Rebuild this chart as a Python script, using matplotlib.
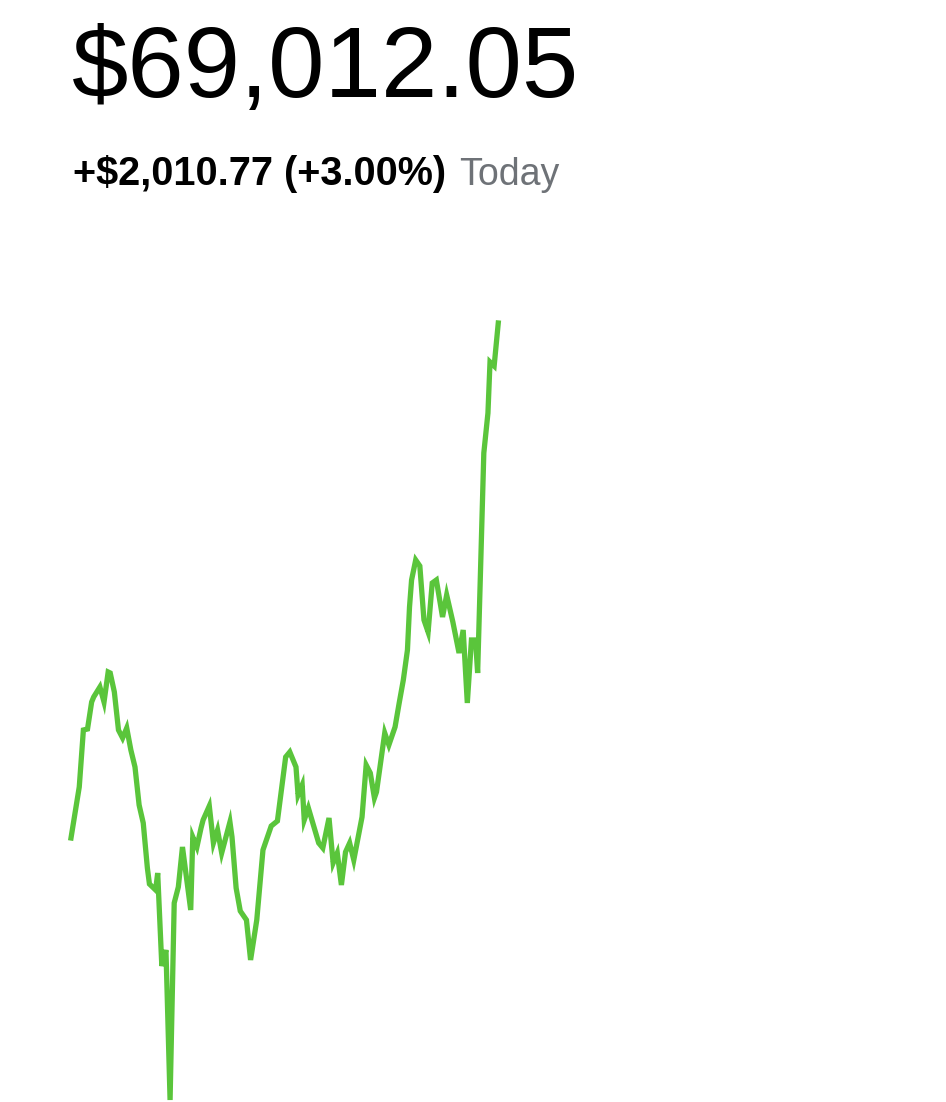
import matplotlib
matplotlib.use("Agg")
import matplotlib.pyplot as plt

# intraday portfolio value, minutes after the open
minutes = [0, 4, 6, 8, 10, 11, 14, 16, 18, 19, 21, 23, 25, 27, 29, 31, 33, 35,
           37, 38, 41, 42, 44, 46, 48, 50, 52, 54, 58, 59, 61, 63, 64, 67, 69,
           71, 73, 77, 78, 80, 82, 85, 87, 90, 93, 97, 100, 104, 106, 109, 110,
           112, 113, 115, 120, 122, 125, 127, 129, 131, 133, 135, 137, 141, 143,
           145, 147, 148, 152, 154, 157, 159, 161, 163, 164, 165, 167, 169, 171,
           173, 175, 177, 180, 182, 185, 188, 190, 192, 194, 196, 197, 198, 200,
           202, 203, 205, 207]
values = [67001.5, 67200.6, 67423.1, 67427.0, 67532.4, 67552.0, 67591.0, 67532.4,
          67649.5, 67645.6, 67571.5, 67423.1, 67391.9, 67431.0, 67345.0, 67278.7,
          67130.3, 67060.0, 66884.4, 66821.9, 66798.5, 66864.8, 66501.8, 66564.2,
          65978.6, 66747.7, 66810.2, 66966.4, 66720.4, 67005.4, 66966.4, 67040.5,
          67071.7, 67126.4, 66982.0, 67032.7, 66942.9, 67063.9, 67005.4, 66806.3,
          66716.5, 66681.4, 66525.3, 66681.4, 66954.6, 67048.3, 67067.9, 67317.7,
          67337.3, 67278.7, 67169.4, 67208.4, 67071.7, 67118.6, 66982.0, 66962.5,
          67079.6, 66903.9, 66942.9, 66818.0, 66946.8, 66982.0, 66915.6, 67083.5,
          67286.5, 67255.3, 67157.7, 67181.1, 67411.4, 67364.6, 67434.9, 67528.6,
          67618.3, 67735.4, 67903.3, 68008.7, 68086.8, 68063.4, 67852.6, 67805.7,
          67997.0, 68008.7, 67864.3, 67950.2, 67844.8, 67723.7, 67813.5, 67528.6,
          67774.5, 67774.5, 67645.6, 67930.6, 68504.5, 68660.7, 68859.8, 68844.2,
          69012.05]

session_minutes = 390
price_label = "$69,012.05"
change_label = "+$2,010.77 (+3.00%)"
period_label = "Today"

green = "#5AC53B"

fig = plt.figure(figsize=(9.46, 11.02), dpi=100)
fig.patch.set_facecolor("white")

W, H = 946, 1102
ax = fig.add_axes([71 / W, 1 - 1100 / H, (876 - 71) / W, (1100 - 323) / H])
ax.plot(minutes, values, color=green, lw=3.8, solid_joinstyle="miter",
        clip_on=False)
ax.set_xlim(0, session_minutes)
ax.set_ylim(min(values), max(values))
ax.axis("off")

fig.text(72 / W, 1 - 97 / H, price_label, fontsize=73,
         family="Liberation Sans", color="black", va="baseline", ha="left")
fig.text(73 / W, 1 - 185 / H, change_label, fontsize=28.5,
         family="Liberation Sans", fontweight="bold", color="black",
         va="baseline", ha="left")
fig.text(459 / W, 1 - 185 / H, period_label, fontsize=27,
         family="Liberation Sans", color="#6E7277", va="baseline", ha="left")

fig.savefig("out.png", dpi=100, facecolor="white")
